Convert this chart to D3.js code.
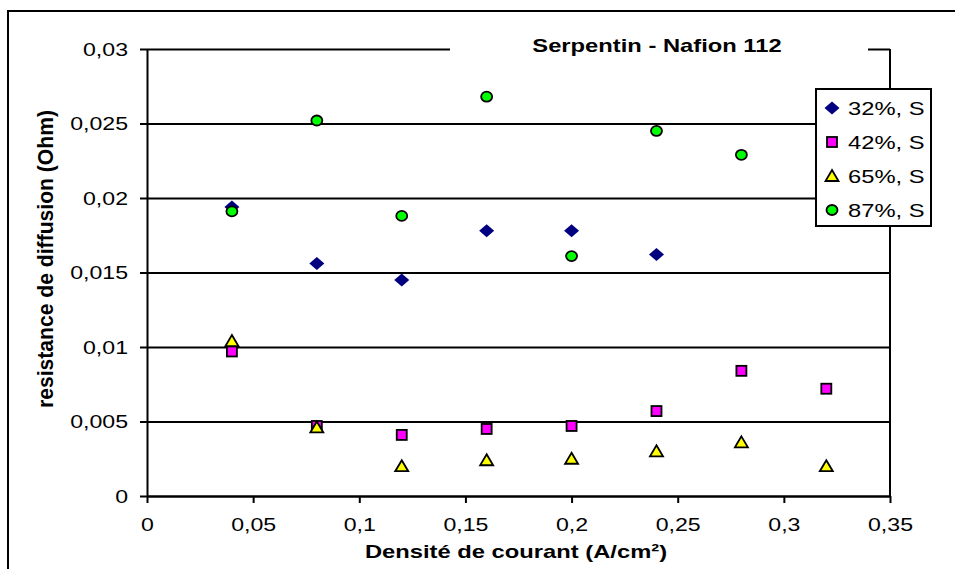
<!DOCTYPE html>
<html>
<head>
<meta charset="utf-8">
<script src="https://cdn.jsdelivr.net/npm/d3@7"></script>
<style>
  body { margin: 0; background: #fff; }
  text { font-family: "Liberation Sans", Arial, sans-serif; fill: #000; }
</style>
</head>
<body>
<svg id="chart" width="955" height="569"></svg>
<script>
// current density (A/cm²)
const densities = [0.04, 0.08, 0.12, 0.16, 0.20, 0.24, 0.28, 0.32]
// diffusion resistance (Ohm)
const s32 = [0.0194, 0.0156, 0.0145, 0.0178, 0.0178, 0.0162]
const s42 = [0.0097, 0.0047, 0.0041, 0.0045, 0.0047, 0.0057, 0.0084, 0.0072]
const s65 = [0.0104, 0.0046, 0.0020, 0.0024, 0.0025, 0.0030, 0.0036, 0.0020]
const s87 = [0.0191, 0.0252, 0.0188, 0.0268, 0.0161, 0.0245, 0.0229]
const seriesNames = ['32%, S', '42%, S', '65%, S', '87%, S']
const xTicks = [0, 0.05, 0.1, 0.15, 0.2, 0.25, 0.3, 0.35]
const yTicks = [0, 0.005, 0.01, 0.015, 0.02, 0.025, 0.03]

const series = [
  { name: seriesNames[0], values: s32, shape: 'diamond', fill: '#000080' },
  { name: seriesNames[1], values: s42, shape: 'square', fill: '#ff00ff' },
  { name: seriesNames[2], values: s65, shape: 'triangle', fill: '#ffff00' },
  { name: seriesNames[3], values: s87, shape: 'circle', fill: '#00ff00' }
]

const stretch = 'scale(1.25,1)' // the original chart is stretched sideways
const fmt = d3.formatLocale({ decimal: ',', thousands: ' ', grouping: [3], currency: ['', ''] }).format('~g')

const svg = d3.select('#chart')
const x = d3.scaleLinear().domain([0, 0.35]).range([147, 890])
const y = d3.scaleLinear().domain([0, 0.03]).range([496, 49])

// outer chart frame
svg.append('path')
  .attr('d', 'M8,580 L8,11 L970,11')
  .attr('fill', 'none')
  .attr('stroke', '#000')
  .attr('stroke-width', 2)

// gridlines
svg.append('g')
  .attr('transform', `translate(${x(0)},0)`)
  .call(d3.axisLeft(y).tickValues(yTicks).tickSize(-(x(0.35) - x(0))).tickFormat(''))
  .call(g => g.select('.domain').remove())
  .call(g => g.selectAll('line').attr('stroke', '#000').attr('stroke-width', 2))

// right frame of plot
svg.append('line')
  .attr('x1', x(0.35)).attr('x2', x(0.35))
  .attr('y1', y(0.03)).attr('y2', y(0))
  .attr('stroke', '#000').attr('stroke-width', 2)

// axes
const xAxis = svg.append('g')
  .attr('transform', `translate(0,${y(0)})`)
  .call(d3.axisBottom(x).tickValues(xTicks).tickSize(7).tickSizeOuter(0).tickFormat(fmt))
xAxis.select('.domain').attr('stroke-width', 2)
xAxis.selectAll('line').attr('stroke-width', 2)
xAxis.selectAll('text')
  .attr('font-size', 18.5)
  .attr('y', 0)
  .attr('dy', 0)
  .attr('transform', 'translate(0,35) ' + stretch)

const yAxis = svg.append('g')
  .attr('transform', `translate(${x(0)},0)`)
  .call(d3.axisLeft(y).tickValues(yTicks).tickSize(7).tickSizeOuter(0).tickFormat(fmt))
yAxis.select('.domain').attr('stroke-width', 2)
yAxis.selectAll('line').attr('stroke-width', 2)
yAxis.selectAll('text')
  .attr('font-size', 18.5)
  .attr('x', -15.2)
  .attr('dy', '0.35em')
  .attr('transform', stretch)

// markers
function marker (sel, shape, fill) {
  if (shape === 'diamond') {
    sel.append('path').attr('d', 'M0,-6.5L7.5,0L0,6.5L-7.5,0Z').attr('fill', fill)
  } else if (shape === 'square') {
    sel.append('rect').attr('x', -5).attr('y', -5).attr('width', 10).attr('height', 10)
      .attr('fill', fill).attr('stroke', '#000').attr('stroke-width', 1.8)
  } else if (shape === 'triangle') {
    sel.append('path').attr('d', 'M0,-6L6.5,5L-6.5,5Z')
      .attr('fill', fill).attr('stroke', '#000').attr('stroke-width', 1.8).attr('stroke-linejoin', 'miter')
  } else {
    sel.append('ellipse').attr('rx', 5.5).attr('ry', 5)
      .attr('fill', fill).attr('stroke', '#000').attr('stroke-width', 1.8)
  }
}

series.forEach(s => {
  svg.append('g').selectAll('g')
    .data(s.values)
    .join('g')
    .attr('transform', (d, i) => `translate(${x(densities[i])},${y(d)})`)
    .each(function () { marker(d3.select(this), s.shape, s.fill) })
})

// title box
svg.append('rect')
  .attr('x', 450).attr('y', 30).attr('width', 418).attr('height', 28)
  .attr('fill', '#fff')
svg.append('text')
  .attr('transform', `translate(657,52) ${stretch}`)
  .attr('text-anchor', 'middle')
  .attr('font-size', 19)
  .attr('font-weight', 'bold')
  .text('Serpentin - Nafion 112')

// axis titles
svg.append('text')
  .attr('transform', `translate(516,558) ${stretch}`)
  .attr('text-anchor', 'middle')
  .attr('font-size', 19)
  .attr('font-weight', 'bold')
  .text('Densité de courant (A/cm²)')

svg.append('text')
  .attr('transform', 'translate(53,259) rotate(-90)')
  .attr('text-anchor', 'middle')
  .attr('font-size', 22)
  .attr('font-weight', 'bold')
  .attr('textLength', 298)
  .attr('lengthAdjust', 'spacingAndGlyphs')
  .text('resistance de diffusion (Ohm)')

// legend
const legend = svg.append('g').attr('transform', 'translate(816,89)')
legend.append('rect')
  .attr('width', 115).attr('height', 137)
  .attr('fill', '#fff').attr('stroke', '#000').attr('stroke-width', 2)
const items = legend.selectAll('.item')
  .data(series)
  .join('g')
  .attr('class', 'item')
  .attr('transform', (d, i) => `translate(0,${19 + i * 34})`)
items.append('g')
  .attr('transform', 'translate(16,0)')
  .each(function (d) { marker(d3.select(this), d.shape, d.fill) })
items.append('text')
  .attr('transform', `translate(32,7) ${stretch}`)
  .attr('font-size', 19)
  .text(d => d.name)
</script>
</body>
</html>
